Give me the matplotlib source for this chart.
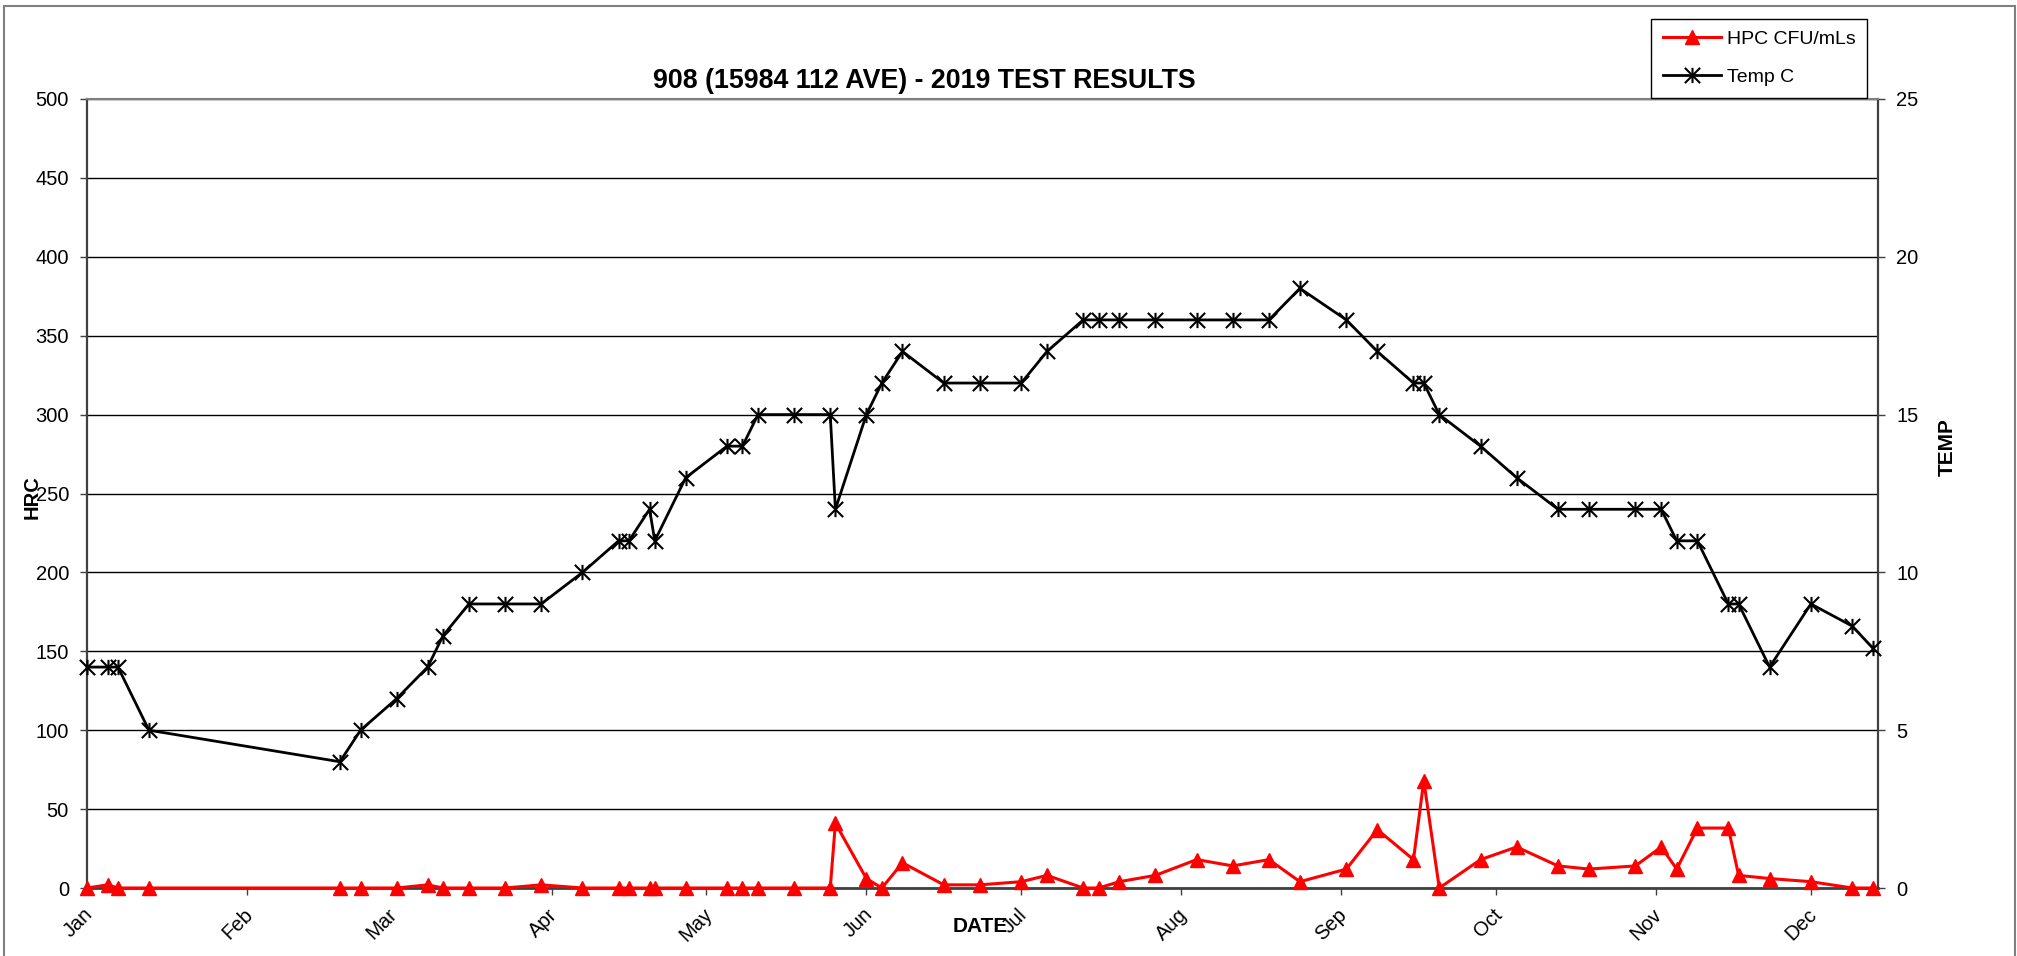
import numpy as np
import matplotlib
matplotlib.use('Agg')
import matplotlib.pyplot as plt
import matplotlib.dates as mdates
import matplotlib.transforms as mtransforms
from matplotlib.patches import Rectangle
from matplotlib.path import Path

plt.rcParams['font.family'] = ['Liberation Sans', 'DejaVu Sans']

# sample dates (2019)
dates = np.array([
    '2019-01-01', '2019-01-05', '2019-01-07', '2019-01-13', '2019-02-19', '2019-02-23',
    '2019-03-02', '2019-03-08', '2019-03-11', '2019-03-16', '2019-03-23', '2019-03-30',
    '2019-04-07', '2019-04-14', '2019-04-16', '2019-04-20', '2019-04-21', '2019-04-27',
    '2019-05-05', '2019-05-08', '2019-05-11', '2019-05-18', '2019-05-25', '2019-05-26',
    '2019-06-01', '2019-06-04', '2019-06-08', '2019-06-16', '2019-06-23', '2019-07-01',
    '2019-07-06', '2019-07-13', '2019-07-16', '2019-07-20', '2019-07-27', '2019-08-04',
    '2019-08-11', '2019-08-18', '2019-08-24', '2019-09-02', '2019-09-08', '2019-09-15',
    '2019-09-17', '2019-09-20', '2019-09-28', '2019-10-05', '2019-10-13', '2019-10-19',
    '2019-10-28', '2019-11-02', '2019-11-05', '2019-11-09', '2019-11-15', '2019-11-17',
    '2019-11-23', '2019-12-01', '2019-12-09', '2019-12-13'], dtype='datetime64[D]')

# HPC CFU/mLs (left axis)
hpc = [0, 2, 0, 0, 0, 0,
       0, 2, 0, 0, 0, 2,
       0, 0, 0, 0, 0, 0,
       0, 0, 0, 0, 0, 41,
       6, 0, 16, 2, 2, 4,
       8, 0, 0, 4, 8, 18,
       14, 18, 4, 12, 37, 18,
       68, 0, 18, 26, 14, 12,
       14, 26, 12, 38, 38, 8,
       6, 4, 0, 0]

# Temp C (right axis)
temp = [7, 7, 7, 5, 4, 5,
        6, 7, 8, 9, 9, 9,
        10, 11, 11, 12, 11, 13,
        14, 14, 15, 15, 15, 12,
        15, 16, 17, 16, 16, 16,
        17, 18, 18, 18, 18, 18,
        18, 18, 19, 18, 17, 16,
        16, 15, 14, 13, 12, 12,
        12, 12, 11, 11, 9, 9,
        7, 9, 8.3, 7.6]

# excel-style star: vertical bar + X
star = Path([(0, -1), (0, 1), (-1, -1), (1, 1), (-1, 1), (1, -1)],
            [Path.MOVETO, Path.LINETO, Path.MOVETO, Path.LINETO, Path.MOVETO, Path.LINETO])

W, H = 2017, 956
fig = plt.figure(figsize=(W / 100, H / 100), dpi=100)
ax = fig.add_axes([87 / W, 1 - 888 / H, (1878 - 87) / W, (888 - 99) / H])
ax2 = ax.twinx()

l1, = ax.plot(dates, hpc, color='red', lw=2.2, marker='^', ms=10.5,
              mfc='red', mec='red', label='HPC CFU/mLs', clip_on=False, zorder=3)
l2, = ax2.plot(dates, temp, color='black', lw=2, marker=star, ms=11,
               mew=1.5, mec='black', mfc='none', label='Temp C', clip_on=False, zorder=3)

ax.set_ylim(0, 500)
ax.set_yticks(np.arange(0, 501, 50))
ax2.set_ylim(0, 25)
ax2.set_yticks(np.arange(0, 26, 5))
ax.set_xlim(np.datetime64('2019-01-01'), np.datetime64('2019-12-14'))
ax.xaxis.set_major_locator(mdates.MonthLocator())
ax.xaxis.set_major_formatter(mdates.DateFormatter('%b'))

ax.yaxis.grid(True, color='black', lw=1)
ax.set_axisbelow(True)

for a in (ax, ax2):
    a.spines['top'].set_visible(False)
ax.spines['left'].set_color('#404040')
ax.spines['left'].set_linewidth(1.6)
ax.spines['bottom'].set_color('#404040')
ax.spines['bottom'].set_linewidth(2)
ax.spines['right'].set_visible(False)
ax2.spines['left'].set_visible(False)
ax2.spines['bottom'].set_visible(False)
ax2.spines['right'].set_color('#404040')
ax2.spines['right'].set_linewidth(1.6)
ax2.spines['top'].set_visible(True)
ax2.spines['top'].set_color('#808080')
ax2.spines['top'].set_linewidth(1.5)

ax.tick_params(axis='y', length=5, width=1, color='#404040', labelsize=14.5, pad=8)
ax2.tick_params(axis='y', length=5, width=1, color='#404040', labelsize=14.5, pad=8)
ax.tick_params(axis='x', length=5, width=1, color='#404040', labelsize=14.5, pad=12)
shift = mtransforms.ScaledTranslation(3 / 100, 0, fig.dpi_scale_trans)
for lbl in ax.get_xticklabels():
    lbl.set_rotation(45)
    lbl.set_ha('right')
    lbl.set_va('center')
    lbl.set_rotation_mode('anchor')
    lbl.set_transform(lbl.get_transform() + shift)

fig.text(924 / W, 1 - 88 / H, '908 (15984 112 AVE) - 2019 TEST RESULTS',
         ha='center', va='baseline', fontsize=19.3, fontweight='bold')
fig.text(32 / W, 1 - 497 / H, 'HRC', rotation=90, ha='center', va='center',
         fontsize=14.5, fontweight='bold')
fig.text(1947 / W, 1 - 447 / H, 'TEMP', rotation=90, ha='center', va='center',
         fontsize=15, fontweight='bold')
fig.text(980 / W, 1 - 927 / H, 'DATE', ha='center', va='center',
         fontsize=15, fontweight='bold')

leg = fig.legend([l1, l2], ['HPC CFU/mLs', 'Temp C'], loc='upper left',
                 bbox_to_anchor=(1651 / W, 1 - 19 / H), fancybox=False,
                 edgecolor='black', framealpha=1, fontsize=14, handlelength=3.0,
                 handletextpad=0.3, borderpad=0.6, labelspacing=1.05, borderaxespad=0)
leg.get_frame().set_linewidth(1)

fig.patches.append(Rectangle((4 / W, -0.1), (2015 - 4) / W, 1.1 - 6 / H,
                             transform=fig.transFigure, fill=False,
                             edgecolor='#808080', lw=1.5))

fig.savefig('out.png', dpi=100)
